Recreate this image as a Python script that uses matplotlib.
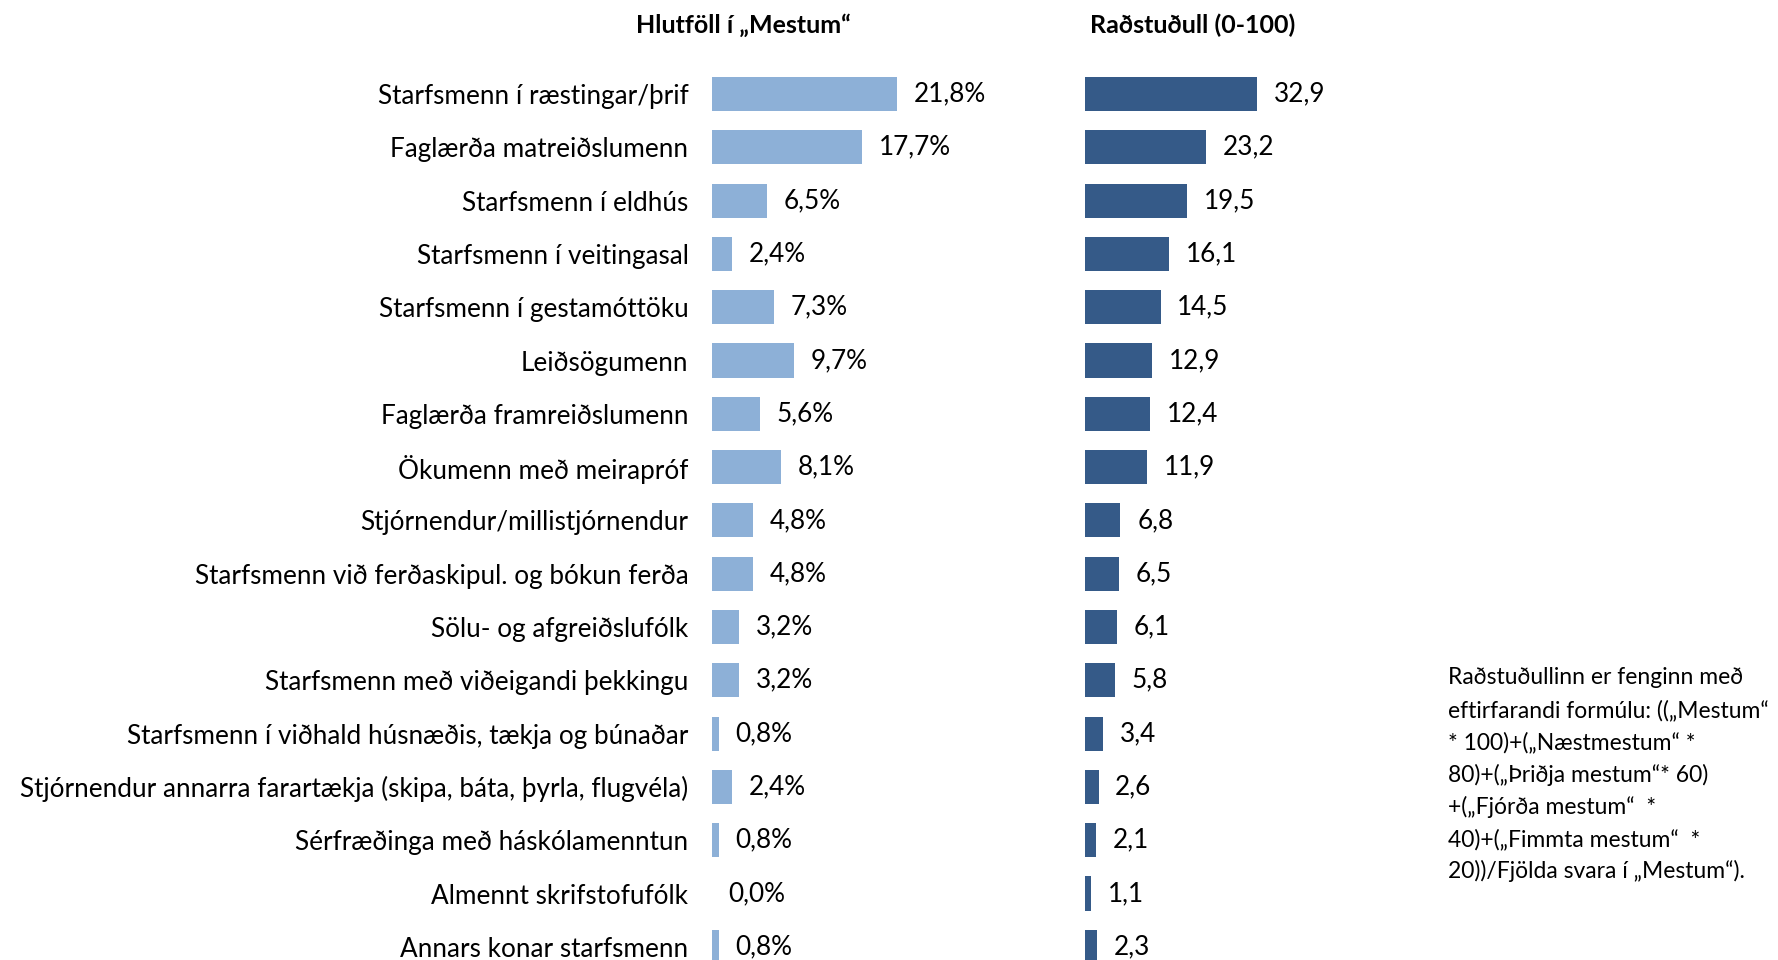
import matplotlib.pyplot as plt

plt.rcParams['font.family'] = ['Lato', 'DejaVu Sans']

categories = [
    'Starfsmenn í ræstingar/þrif',
    'Faglærða matreiðslumenn',
    'Starfsmenn í eldhús',
    'Starfsmenn í veitingasal',
    'Starfsmenn í gestamóttöku',
    'Leiðsögumenn',
    'Faglærða framreiðslumenn',
    'Ökumenn með meirapróf',
    'Stjórnendur/millistjórnendur',
    'Starfsmenn við ferðaskipul. og bókun ferða',
    'Sölu- og afgreiðslufólk',
    'Starfsmenn með viðeigandi þekkingu',
    'Starfsmenn í viðhald húsnæðis, tækja og búnaðar',
    'Stjórnendur annarra farartækja (skipa, báta, þyrla, flugvéla)',
    'Sérfræðinga með háskólamenntun',
    'Almennt skrifstofufólk',
    'Annars konar starfsmenn',
]
mestum_pct = [21.8, 17.7, 6.5, 2.4, 7.3, 9.7, 5.6, 8.1, 4.8, 4.8, 3.2, 3.2, 0.8, 2.4, 0.8, 0.0, 0.8]
radstudull = [32.9, 23.2, 19.5, 16.1, 14.5, 12.9, 12.4, 11.9, 6.8, 6.5, 6.1, 5.8, 3.4, 2.6, 2.1, 1.1, 2.3]

title_left = 'Hlutföll í „Mestum“'
title_right = 'Raðstuðull (0-100)'
note_lines = [
    'Raðstuðullinn er fenginn með',
    'eftirfarandi formúlu: ((„Mestum“',
    '* 100)+(„Næstmestum“ *',
    '80)+(„Þriðja mestum“* 60)',
    '+(„Fjórða mestum“  *',
    '40)+(„Fimmta mestum“  *',
    '20))/Fjölda svara í „Mestum“).',
]

W, H = 1778, 960
light = '#8DB0D7'
dark = '#355A88'
fs = 18.8

fig = plt.figure(figsize=(W / 100, H / 100), dpi=100)

# rows: first centre at 94 px from top, step 53.3 px
row0, step = 94, 53.3
top_px = row0 - 0.5 * step
bot_px = row0 + (len(categories) - 0.5) * step
ax_bottom = (H - bot_px) / H
ax_height = (bot_px - top_px) / H

ax1 = fig.add_axes([712 / W, ax_bottom, 30 * 8.5 / W, ax_height])
ax2 = fig.add_axes([1085 / W, ax_bottom, 40 * 5.22 / W, ax_height])

y = list(range(len(categories)))
ax1.barh(y, mestum_pct, height=0.64, color=light, linewidth=0)
ax2.barh(y, radstudull, height=0.64, color=dark, linewidth=0)

for ax in (ax1, ax2):
    ax.set_ylim(len(categories) - 0.5, -0.5)
    for s in ax.spines.values():
        s.set_visible(False)
    ax.set_xticks([])
    ax.tick_params(axis='y', length=0)
    ax.patch.set_alpha(0)

ax1.set_xlim(0, 30)
ax2.set_xlim(0, 40)
ax1.set_yticks(y)
ax1.set_yticklabels(categories, fontsize=fs)
ax1.tick_params(axis='y', pad=17)
ax2.set_yticks([])

for i, v in enumerate(mestum_pct):
    ax1.annotate(f'{v:.1f}%'.replace('.', ','), (v, i), xytext=(12, 0),
                 textcoords='offset points', va='center', ha='left', fontsize=fs)
for i, v in enumerate(radstudull):
    ax2.annotate(f'{v:.1f}'.replace('.', ','), (v, i), xytext=(12, 0),
                 textcoords='offset points', va='center', ha='left', fontsize=fs)

fig.text(743 / W, 1 - 25 / H, title_left, ha='center', va='center',
         fontsize=18, fontweight='bold')
fig.text(1193 / W, 1 - 25 / H, title_right, ha='center', va='center',
         fontsize=18, fontweight='bold')

for k, line in enumerate(note_lines):
    fig.text(1448 / W, 1 - (678 + k * 32.2) / H, line, ha='left', va='center',
             fontsize=16.5)

fig.savefig('out.png', dpi=100)
